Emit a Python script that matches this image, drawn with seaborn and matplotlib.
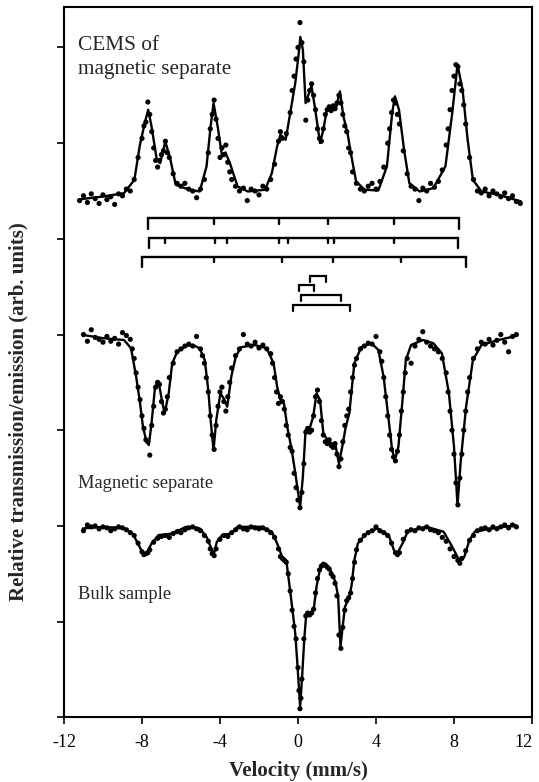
import matplotlib
matplotlib.use("Agg")
import pandas as pd
import matplotlib.pyplot as plt
import matplotlib.transforms as mtransforms
import seaborn as sns

# ---- CEMS of magnetic separate (emission, peaks up) ----
cems_fit = [
    (-11.12, 5.415), (-9.97, 5.443), (-8.92, 5.478), (-8.39, 5.617), (-8.12, 5.966),
    (-7.86, 6.210), (-7.68, 6.349), (-7.51, 6.175), (-7.24, 5.826), (-7.07, 5.791),
    (-6.80, 6.018), (-6.54, 5.826), (-6.27, 5.565), (-5.57, 5.513), (-5.04, 5.495),
    (-4.69, 5.757), (-4.48, 6.175), (-4.33, 6.419), (-4.12, 6.175), (-3.89, 5.861),
    (-3.72, 5.903), (-3.49, 5.791), (-3.10, 5.548), (-2.57, 5.495), (-1.69, 5.513),
    (-1.34, 5.687), (-1.07, 5.966), (-0.90, 6.088), (-0.63, 6.036), (-0.37, 6.349),
    (-0.14, 6.628), (0.04, 6.942), (0.12, 7.110), (0.25, 6.977), (0.39, 6.419),
    (0.51, 6.489), (0.69, 6.600), (0.86, 6.384), (1.13, 6.001), (1.30, 6.140),
    (1.48, 6.349), (1.74, 6.367), (1.97, 6.384), (2.15, 6.541), (2.33, 6.280),
    (2.54, 6.105), (2.71, 5.896), (2.98, 5.600), (3.42, 5.513), (4.12, 5.506),
    (4.56, 5.757), (4.83, 6.315), (4.97, 6.489), (5.18, 6.349), (5.44, 5.931),
    (5.71, 5.582), (6.24, 5.495), (6.94, 5.530), (7.56, 5.757), (7.91, 6.315),
    (8.18, 6.820), (8.44, 6.559), (8.70, 6.036), (8.97, 5.617), (9.41, 5.495),
    (10.29, 5.460), (11.44, 5.391),
]
cems_pts = [
    (-11.2, 5.40), (-11.0, 5.45), (-10.8, 5.38), (-10.6, 5.47), (-10.4, 5.42),
    (-10.2, 5.37), (-10.0, 5.46), (-9.8, 5.41), (-9.6, 5.44), (-9.4, 5.36),
    (-9.2, 5.47), (-9.0, 5.45), (-8.8, 5.52), (-8.6, 5.50), (-8.4, 5.62),
    (-8.2, 5.85), (-8.0, 6.05), (-7.9, 6.18), (-7.8, 6.22), (-7.7, 6.43),
    (-7.6, 6.30), (-7.5, 6.12), (-7.4, 5.95), (-7.3, 5.82), (-7.2, 5.75),
    (-7.1, 5.82), (-7.0, 5.88), (-6.9, 5.92), (-6.8, 6.02), (-6.7, 5.90),
    (-6.6, 5.85), (-6.4, 5.68), (-6.2, 5.58), (-6.0, 5.55), (-5.8, 5.58),
    (-5.6, 5.52), (-5.4, 5.50), (-5.2, 5.43), (-5.0, 5.52), (-4.8, 5.62),
    (-4.6, 5.90), (-4.5, 6.15), (-4.4, 6.30), (-4.3, 6.45), (-4.2, 6.25),
    (-4.1, 6.05), (-4.0, 5.85), (-3.9, 5.95), (-3.8, 5.88), (-3.7, 5.98),
    (-3.6, 5.80), (-3.5, 5.70), (-3.4, 5.62), (-3.2, 5.55), (-3.0, 5.50),
    (-2.8, 5.53), (-2.6, 5.40), (-2.4, 5.52), (-2.2, 5.50), (-2.0, 5.46),
    (-1.8, 5.55), (-1.6, 5.52), (-1.4, 5.62), (-1.2, 5.78), (-1.0, 6.02),
    (-0.9, 6.12), (-0.8, 6.05), (-0.6, 6.10), (-0.4, 6.32), (-0.3, 6.55),
    (-0.2, 6.70), (-0.1, 6.88), (0.0, 7.00), (0.1, 7.26), (0.2, 7.05),
    (0.3, 6.85), (0.4, 6.24), (0.5, 6.45), (0.6, 6.55), (0.7, 6.62),
    (0.8, 6.50), (0.9, 6.35), (1.0, 6.15), (1.1, 6.05), (1.2, 6.02),
    (1.3, 6.15), (1.4, 6.30), (1.5, 6.35), (1.6, 6.38), (1.7, 6.34),
    (1.8, 6.39), (1.9, 6.36), (2.0, 6.42), (2.1, 6.50), (2.2, 6.42),
    (2.3, 6.30), (2.4, 6.18), (2.5, 6.12), (2.6, 5.95), (2.7, 5.90),
    (2.8, 5.70), (3.0, 5.58), (3.2, 5.52), (3.4, 5.50), (3.6, 5.55),
    (3.8, 5.58), (4.0, 5.52), (4.2, 5.60), (4.4, 5.75), (4.6, 6.00),
    (4.7, 6.15), (4.8, 6.32), (4.9, 6.45), (5.0, 6.42), (5.1, 6.30),
    (5.2, 6.20), (5.4, 5.92), (5.6, 5.68), (5.8, 5.55), (6.0, 5.52),
    (6.2, 5.40), (6.4, 5.53), (6.6, 5.50), (6.8, 5.58), (7.0, 5.54),
    (7.2, 5.60), (7.4, 5.72), (7.6, 5.98), (7.7, 6.15), (7.8, 6.35),
    (7.9, 6.55), (8.0, 6.70), (8.1, 6.82), (8.2, 6.80), (8.3, 6.62),
    (8.4, 6.55), (8.5, 6.40), (8.6, 6.20), (8.8, 5.85), (9.0, 5.62),
    (9.2, 5.50), (9.4, 5.48), (9.6, 5.52), (9.8, 5.45), (10.0, 5.50),
    (10.2, 5.47), (10.4, 5.44), (10.6, 5.48), (10.8, 5.42), (11.0, 5.45),
    (11.2, 5.39), (11.4, 5.37),
]

# ---- Magnetic separate (transmission) ----
magsep_fit = [
    (-11.03, 3.996), (-9.97, 3.961), (-8.92, 3.943), (-8.56, 3.856), (-8.30, 3.560),
    (-8.12, 3.316), (-7.95, 3.037), (-7.77, 2.880), (-7.65, 2.845), (-7.51, 3.072),
    (-7.33, 3.455), (-7.15, 3.508), (-6.98, 3.316), (-6.84, 3.176), (-6.63, 3.386),
    (-6.45, 3.699), (-6.19, 3.821), (-5.74, 3.881), (-5.39, 3.891), (-5.04, 3.856),
    (-4.78, 3.734), (-4.60, 3.421), (-4.48, 3.107), (-4.33, 2.793), (-4.19, 3.107),
    (-3.98, 3.386), (-3.81, 3.333), (-3.63, 3.246), (-3.42, 3.560), (-3.19, 3.769),
    (-2.93, 3.867), (-2.22, 3.891), (-1.60, 3.856), (-1.25, 3.699), (-1.07, 3.455),
    (-0.90, 3.316), (-0.72, 3.281), (-0.55, 3.037), (-0.32, 2.793), (-0.11, 2.514),
    (0.11, 2.200), (0.25, 2.514), (0.39, 3.002), (0.60, 3.020), (0.78, 3.142),
    (0.95, 3.386), (1.13, 3.316), (1.30, 2.967), (1.57, 2.880), (1.92, 2.845),
    (2.10, 2.653), (2.27, 2.828), (2.45, 3.037), (2.63, 3.176), (2.89, 3.699),
    (3.24, 3.867), (3.77, 3.909), (4.12, 3.839), (4.39, 3.560), (4.65, 3.107),
    (4.83, 2.793), (4.97, 2.688), (5.15, 2.828), (5.36, 3.316), (5.53, 3.734),
    (5.80, 3.891), (6.41, 3.943), (6.94, 3.909), (7.38, 3.804), (7.74, 3.386),
    (8.00, 2.828), (8.18, 2.218), (8.35, 2.688), (8.62, 3.246), (8.97, 3.734),
    (9.41, 3.891), (10.29, 3.943), (11.17, 3.985),
]
magsep_pts = [
    (-11.0, 4.00), (-10.8, 3.93), (-10.6, 4.05), (-10.4, 3.97), (-10.2, 3.95),
    (-10.0, 3.92), (-9.8, 3.98), (-9.6, 3.93), (-9.4, 3.96), (-9.2, 3.90),
    (-9.0, 4.02), (-8.8, 3.99), (-8.6, 3.95), (-8.5, 3.85), (-8.4, 3.75),
    (-8.3, 3.60), (-8.2, 3.45), (-8.1, 3.32), (-8.0, 3.15), (-7.9, 3.02),
    (-7.8, 2.90), (-7.7, 2.88), (-7.6, 2.74), (-7.5, 3.05), (-7.4, 3.25),
    (-7.3, 3.45), (-7.2, 3.50), (-7.1, 3.48), (-7.0, 3.30), (-6.9, 3.18),
    (-6.8, 3.22), (-6.7, 3.35), (-6.6, 3.55), (-6.4, 3.70), (-6.2, 3.82),
    (-6.0, 3.85), (-5.8, 3.88), (-5.6, 3.90), (-5.4, 3.88), (-5.2, 3.98),
    (-5.0, 3.85), (-4.9, 3.78), (-4.8, 3.70), (-4.7, 3.55), (-4.6, 3.40),
    (-4.5, 3.15), (-4.4, 2.95), (-4.3, 2.80), (-4.2, 3.05), (-4.1, 3.25),
    (-4.0, 3.40), (-3.9, 3.45), (-3.8, 3.30), (-3.7, 3.20), (-3.6, 3.35),
    (-3.5, 3.50), (-3.4, 3.65), (-3.2, 3.78), (-3.0, 3.85), (-2.8, 4.00),
    (-2.6, 3.90), (-2.4, 3.88), (-2.2, 3.92), (-2.0, 3.86), (-1.8, 3.89),
    (-1.6, 3.85), (-1.4, 3.80), (-1.3, 3.70), (-1.2, 3.55), (-1.1, 3.40),
    (-1.0, 3.28), (-0.9, 3.35), (-0.8, 3.30), (-0.7, 3.22), (-0.6, 3.05),
    (-0.5, 2.95), (-0.4, 2.82), (-0.3, 2.78), (-0.2, 2.55), (-0.1, 2.40),
    (0.0, 2.27), (0.1, 2.19), (0.2, 2.35), (0.3, 2.65), (0.4, 2.98),
    (0.5, 3.02), (0.6, 2.98), (0.7, 3.00), (0.8, 3.15), (0.9, 3.35),
    (1.0, 3.42), (1.1, 3.30), (1.2, 3.10), (1.3, 2.95), (1.4, 2.88),
    (1.5, 2.86), (1.6, 2.90), (1.7, 2.84), (1.8, 2.82), (1.9, 2.86),
    (2.0, 2.75), (2.1, 2.62), (2.2, 2.70), (2.3, 2.88), (2.4, 3.05),
    (2.5, 3.15), (2.6, 3.22), (2.7, 3.40), (2.8, 3.55), (2.9, 3.68),
    (3.0, 3.75), (3.2, 3.85), (3.4, 3.88), (3.6, 3.91), (3.8, 3.90),
    (4.0, 3.98), (4.2, 3.82), (4.3, 3.72), (4.4, 3.55), (4.5, 3.35),
    (4.6, 3.15), (4.7, 2.95), (4.8, 2.80), (4.9, 2.72), (5.0, 2.68),
    (5.1, 2.78), (5.2, 2.95), (5.3, 3.20), (5.4, 3.40), (5.5, 3.60),
    (5.6, 3.75), (5.8, 3.70), (6.0, 3.88), (6.2, 3.95), (6.4, 4.03),
    (6.6, 3.92), (6.8, 3.88), (7.0, 3.85), (7.2, 3.82), (7.4, 3.75),
    (7.6, 3.60), (7.7, 3.40), (7.8, 3.20), (7.9, 3.00), (8.0, 2.75),
    (8.1, 2.45), (8.2, 2.22), (8.3, 2.50), (8.4, 2.75), (8.5, 3.00),
    (8.6, 3.20), (8.7, 3.40), (8.8, 3.55), (9.0, 3.75), (9.2, 3.85),
    (9.4, 3.92), (9.6, 3.90), (9.8, 3.95), (10.0, 3.89), (10.2, 3.94),
    (10.4, 4.00), (10.6, 3.92), (10.8, 3.82), (11.0, 3.98), (11.2, 4.00),
]

# ---- Bulk sample (transmission) ----
bulk_fit = [
    (-11.03, 1.974), (-9.97, 1.991), (-8.92, 1.974), (-8.48, 1.921), (-8.21, 1.817),
    (-7.95, 1.712), (-7.77, 1.712), (-7.51, 1.817), (-7.15, 1.904), (-6.45, 1.921),
    (-5.74, 1.991), (-5.04, 1.974), (-4.69, 1.886), (-4.48, 1.782), (-4.33, 1.695),
    (-4.16, 1.834), (-3.89, 1.904), (-3.45, 1.921), (-3.10, 1.991), (-1.87, 1.991),
    (-1.34, 1.939), (-1.07, 1.817), (-0.81, 1.677), (-0.60, 1.642), (-0.46, 1.416),
    (-0.28, 1.119), (-0.14, 0.875), (-0.02, 0.527), (0.11, 0.105), (0.21, 0.422),
    (0.33, 0.840), (0.42, 1.067), (0.60, 1.067), (0.81, 1.137), (0.95, 1.363),
    (1.13, 1.555), (1.39, 1.590), (1.66, 1.538), (1.92, 1.416), (2.06, 1.259),
    (2.18, 0.736), (2.29, 0.945), (2.41, 1.154), (2.63, 1.259), (2.75, 1.381),
    (2.89, 1.642), (3.07, 1.817), (3.42, 1.904), (4.04, 1.974), (4.65, 1.904),
    (4.92, 1.747), (5.09, 1.712), (5.36, 1.817), (5.62, 1.939), (6.59, 1.991),
    (7.47, 1.939), (7.91, 1.782), (8.26, 1.642), (8.53, 1.677), (8.79, 1.851),
    (9.06, 1.939), (9.94, 1.974), (11.17, 2.008),
]
bulk_pts = [
    (-11.0, 1.95), (-10.8, 2.01), (-10.6, 1.99), (-10.4, 2.00), (-10.2, 1.97),
    (-10.0, 1.99), (-9.8, 1.98), (-9.6, 1.95), (-9.4, 1.97), (-9.2, 1.99),
    (-9.0, 1.98), (-8.8, 1.96), (-8.6, 1.93), (-8.4, 1.90), (-8.2, 1.82),
    (-8.0, 1.73), (-7.9, 1.70), (-7.8, 1.71), (-7.7, 1.72), (-7.6, 1.75),
    (-7.4, 1.83), (-7.2, 1.87), (-7.0, 1.89), (-6.8, 1.90), (-6.6, 1.88),
    (-6.4, 1.92), (-6.2, 1.94), (-6.0, 1.93), (-5.8, 1.96), (-5.6, 1.98),
    (-5.4, 1.99), (-5.2, 1.97), (-5.0, 1.95), (-4.8, 1.90), (-4.6, 1.84),
    (-4.5, 1.76), (-4.4, 1.71), (-4.3, 1.69), (-4.2, 1.76), (-4.0, 1.86),
    (-3.8, 1.90), (-3.6, 1.89), (-3.4, 1.93), (-3.2, 1.96), (-3.0, 1.99),
    (-2.8, 1.97), (-2.6, 1.96), (-2.4, 1.99), (-2.2, 1.98), (-2.0, 1.97),
    (-1.8, 1.98), (-1.6, 1.96), (-1.4, 1.93), (-1.2, 1.88), (-1.0, 1.76),
    (-0.9, 1.68), (-0.8, 1.66), (-0.7, 1.64), (-0.6, 1.62), (-0.5, 1.50),
    (-0.4, 1.32), (-0.3, 1.12), (-0.2, 0.95), (-0.1, 0.82), (0.0, 0.52),
    (0.05, 0.28), (0.1, 0.09), (0.15, 0.20), (0.2, 0.40), (0.3, 0.82),
    (0.4, 1.06), (0.5, 1.09), (0.6, 1.07), (0.7, 1.09), (0.8, 1.13),
    (0.9, 1.30), (1.0, 1.45), (1.1, 1.54), (1.2, 1.58), (1.3, 1.60),
    (1.4, 1.59), (1.5, 1.57), (1.6, 1.55), (1.7, 1.50), (1.8, 1.47),
    (1.9, 1.40), (2.0, 1.27), (2.1, 0.86), (2.2, 0.72), (2.3, 0.94),
    (2.4, 1.12), (2.5, 1.22), (2.6, 1.25), (2.7, 1.30), (2.8, 1.45),
    (2.9, 1.62), (3.0, 1.75), (3.2, 1.85), (3.4, 1.90), (3.6, 1.93),
    (3.8, 1.95), (4.0, 1.99), (4.2, 1.95), (4.4, 1.93), (4.6, 1.90),
    (4.8, 1.82), (5.0, 1.72), (5.1, 1.70), (5.2, 1.72), (5.4, 1.86),
    (5.6, 1.94), (5.8, 1.96), (6.0, 1.95), (6.2, 1.98), (6.4, 1.97),
    (6.6, 1.99), (6.8, 1.96), (7.0, 1.95), (7.2, 1.93), (7.4, 1.88),
    (7.6, 1.84), (7.8, 1.76), (8.0, 1.68), (8.2, 1.64), (8.3, 1.61),
    (8.4, 1.66), (8.6, 1.74), (8.8, 1.85), (9.0, 1.90), (9.2, 1.95),
    (9.4, 1.97), (9.6, 1.98), (9.8, 1.96), (10.0, 1.99), (10.2, 1.97),
    (10.4, 1.99), (10.6, 2.01), (10.8, 1.98), (11.0, 2.01), (11.2, 1.99),
]

# stick diagrams: sextets (left end, right end, inner lines) and doublets
sextet_lines = [
    (-7.68, 8.26, [-4.30, -0.95, 1.54, 4.90]),
    (-7.63, 8.23, [-6.81, -4.27, -3.66, -0.95, -0.50, 1.54, 1.83, 4.90]),
    (-8.00, 8.60, [-4.30, -0.81, 1.78, 5.28]),
]
doublet_lines = [(0.61, 1.42), (0.04, 0.80), (0.13, 2.23), (-0.27, 2.66)]
sextet_levels = [5.216, 5.014, 4.814]
doublet_levels = [4.613, 4.516, 4.411, 4.31]

x_ticks = [-12, -8, -4, 0, 4, 8, 12]

sns.set_style("ticks")
plt.rcParams["font.family"] = ["Liberation Serif", "DejaVu Serif"]
plt.rcParams["axes.unicode_minus"] = False

fig = plt.figure(figsize=(5.39, 7.82), dpi=100)
ax = fig.add_axes([0.1187, 0.0827, 0.8683, 0.908])

for fit, pts in [(cems_fit, cems_pts), (magsep_fit, magsep_pts), (bulk_fit, bulk_pts)]:
    fdf = pd.DataFrame(fit, columns=["v", "y"])
    pdf = pd.DataFrame(pts, columns=["v", "y"])
    sns.lineplot(data=fdf, x="v", y="y", color="black", lw=1.7, estimator=None,
                 sort=False, ax=ax)
    sns.scatterplot(data=pdf, x="v", y="y", color="black", s=14, edgecolor="none",
                    ax=ax)

# sextet brackets
for (lo, hi, inner), lev in zip(sextet_lines, sextet_levels):
    ax.plot([lo, lo, hi, hi], [lev - 0.11, lev, lev, lev - 0.11], color="black",
            lw=1.7, solid_joinstyle="miter")
    for t in inner:
        ax.plot([t, t], [lev, lev - 0.06], color="black", lw=1.7)

# doublet brackets
for (lo, hi), lev in zip(doublet_lines, doublet_levels):
    ax.plot([lo, lo, hi, hi], [lev - 0.06, lev, lev, lev - 0.06], color="black",
            lw=1.6, solid_joinstyle="miter")

ax.text(-11.27, 6.977, "CEMS of", fontsize=15.3, va="baseline")
ax.text(-11.27, 6.726, "magnetic separate", fontsize=15.3, va="baseline")
ax.text(-11.27, 2.395, "Magnetic separate", fontsize=13.3, va="baseline")
ax.text(-11.27, 1.234, "Bulk sample", fontsize=13.3, va="baseline")

ax.set_xlim(-12, 12)
ax.set_ylim(0, 7.42)
ax.set_xticks(x_ticks)
ax.set_xticklabels([str(t) for t in x_ticks], fontsize=13)
ax.set_yticks(range(0, 8))
ax.set_yticklabels([])
ax.tick_params(direction="out", length=5, width=1.2, colors="black", pad=7)
for sp in ax.spines.values():
    sp.set_visible(True)
    sp.set_linewidth(1.5)
    sp.set_color("black")

# last tick label sits against the image edge; nudge it inward so it stays whole
last = ax.get_xticklabels()[-1]
last.set_transform(last.get_transform() +
                   mtransforms.ScaledTranslation(-6 / 72, 0, fig.dpi_scale_trans))

ax.set_xlabel("Velocity (mm/s)", fontsize=15, fontweight="bold", labelpad=7)
ax.set_ylabel("")
fig.text(0.035, 0.473, "Relative transmission/emission (arb. units)", rotation=90,
         fontsize=15, fontweight="bold", ha="center", va="center")

fig.savefig("out.png", dpi=100)
